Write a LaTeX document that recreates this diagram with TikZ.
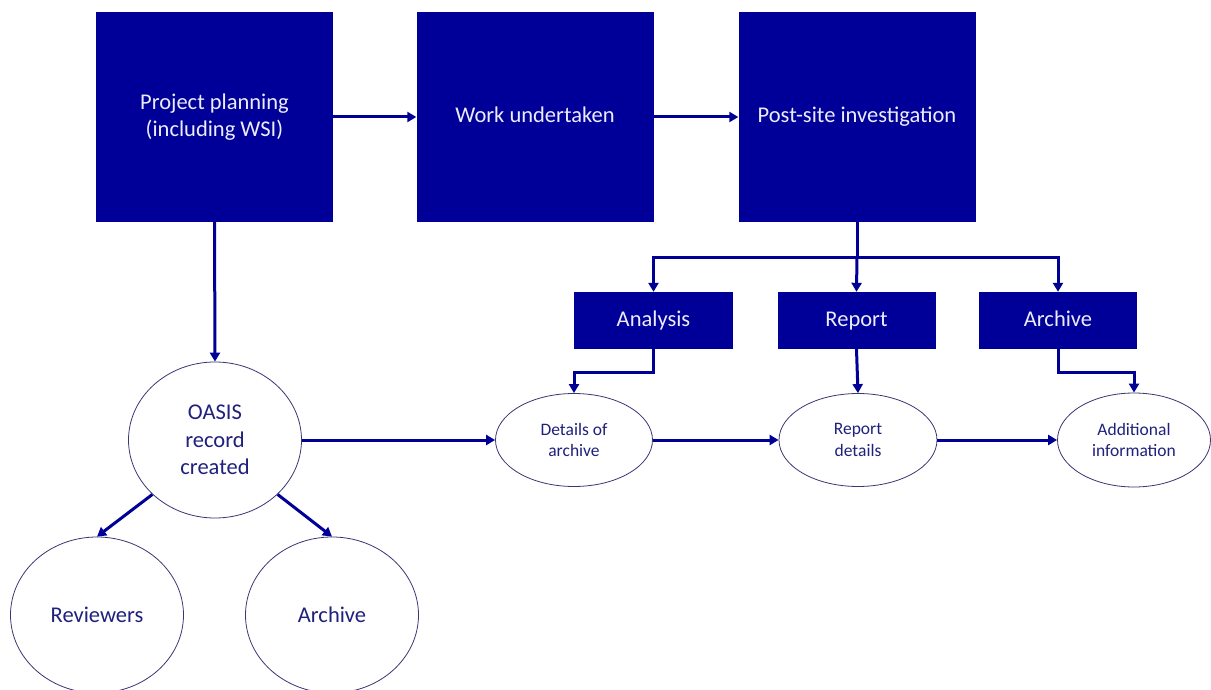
\documentclass[tikz,border=0pt]{standalone}
\usepackage{fontspec}
\setmainfont{Carlito}
\usetikzlibrary{shapes.geometric,arrows.meta,calc}
\definecolor{boxblue}{RGB}{0,0,153}
\definecolor{boxtext}{RGB}{236,236,250}
\definecolor{arrblue}{RGB}{0,0,150}
\definecolor{elltext}{RGB}{32,32,125}
\definecolor{ellline}{RGB}{55,55,115}
\tikzset{
  bigbox/.style={rectangle,fill=boxblue,draw=none,inner sep=0pt,text=boxtext,
    minimum width=237pt,minimum height=210pt,align=center,
    font=\fontsize{22.5}{27.5}\selectfont},
  smallbox/.style={rectangle,fill=boxblue,draw=none,inner sep=0pt,text=boxtext,
    minimum width=158pt,minimum height=57pt,align=center,
    font=\fontsize{22.5}{27.5}\selectfont},
  bigell/.style={ellipse,draw=ellline,line width=0.8pt,fill=white,inner sep=0pt,
    text=elltext,minimum width=173pt,minimum height=156pt,align=center,
    font=\fontsize{22.5}{27.5}\selectfont},
  smallell/.style={ellipse,draw=ellline,line width=0.8pt,fill=white,inner sep=0pt,
    text=elltext,minimum width=157pt,minimum height=93pt,align=center,
    font=\fontsize{17.5}{21.7}\selectfont},
  arr/.style={draw=arrblue,line width=3pt,-{Triangle[width=10pt,length=9pt]}},
  plainline/.style={draw=arrblue,line width=3pt},
}
\begin{document}
\begin{tikzpicture}[x=1pt,y=-1pt]
\useasboundingbox (0,0) rectangle (1211,690);
% top row
\node[bigbox] (pp) at (214.5,117) {Project planning\\(including WSI)};
\node[bigbox] (wu) at (535,117) {\strut Work undertaken};
\node[bigbox] (ps) at (857,117) {\strut Post-site investigation};
% small boxes
\node[smallbox,minimum width=159pt] (an) at (653.5,320.5) {\strut Analysis};
\node[smallbox] (rp) at (856.5,320.5) {\strut Report};
\node[smallbox] (ar) at (1058,320.5) {\strut Archive};
% ellipses
\node[smallell] (da) at (574,440) {Details of\\archive};
\node[smallell,minimum width=158pt] (rd) at (858,440) {Report\\details};
\node[smallell,minimum width=153pt,minimum height=94pt] (ai) at (1134,440) {Additional\\information};
\node[bigell] (oa) at (215,440) {OASIS\\record\\created};
\node[bigell] (rv) at (97,615) {Reviewers};
\node[bigell] (av) at (332,615) {Archive};
% connectors
\coordinate (split) at (857,257);
\draw[arr] (pp.east) -- (wu.west);
\draw[arr] (wu.east) -- (ps.west);
\draw[plainline] (ps.south) -- (split);
\draw[arr] (split) -| (an.north);
\draw[arr] (split) -| (ar.north);
\draw[arr] (split) -- (rp.north);
\draw[arr] (an.south) -- ++(0,23) -| (da.north);
\draw[arr] (rp.south) -- (rd.north);
\draw[arr] (ar.south) -- ++(0,23) -| (ai.north);
\draw[arr] (pp.south) -- (oa.north);
\draw[arr] (oa.east) -- (da.west);
\draw[arr] (da.east) -- (rd.west);
\draw[arr] (rd.east) -- (ai.west);
\draw[arr] (oa.221) -- (rv.north);
\draw[arr] (oa.319) -- (av.north);
\end{tikzpicture}
\end{document}
